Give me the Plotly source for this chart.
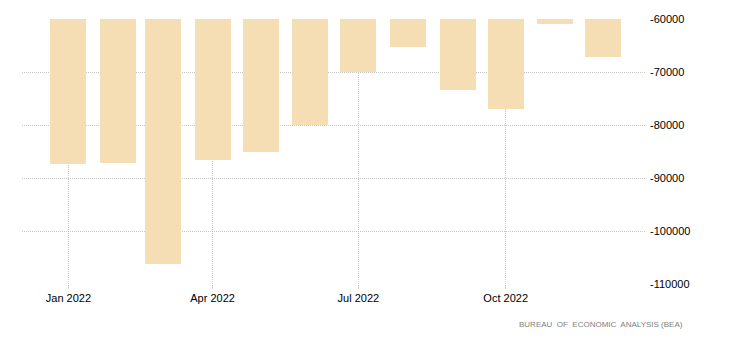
import plotly.graph_objects as go

months = ["2022-01-01", "2022-02-01", "2022-03-01", "2022-04-01", "2022-05-01", "2022-06-01",
          "2022-07-01", "2022-08-01", "2022-09-01", "2022-10-01", "2022-11-01", "2022-12-01"]
values = [-87300, -87100, -106200, -86550, -85050, -80080,
          -70080, -65230, -73470, -77060, -60890, -67250]

x_tickvals = ["2022-01-01", "2022-04-01", "2022-07-01", "2022-10-01"]
x_ticktext = ["Jan 2022", "Apr 2022", "Jul 2022", "Oct 2022"]
y_tickvals = [-60000, -70000, -80000, -90000, -100000, -110000]
y_ticktext = ["-60000", "-70000", "-80000", "-90000", "-100000", "-110000"]

bar_width_ms = 22.5 * 24 * 3600 * 1000

fig = go.Figure()
fig.add_trace(go.Bar(
    x=months, y=values,
    marker=dict(color="#F5DEB3", line=dict(width=0)),
    width=[bar_width_ms] * len(months),
))

font_family = "Liberation Sans, Arial, sans-serif"
fig.update_layout(
    width=729, height=351,
    margin=dict(l=22, r=84, t=19, b=67),
    paper_bgcolor="white", plot_bgcolor="white",
    showlegend=False,
    font=dict(family=font_family, size=11, color="#000"),
    xaxis=dict(
        type="date", range=["2021-12-03", "2022-12-27"],
        tickvals=x_tickvals, ticktext=x_ticktext,
        showgrid=True, gridcolor="#c8c8c8", griddash="1px,1px", gridwidth=1,
        ticks="outside", ticklen=4, tickcolor="#d0d0d0",
        showline=False, zeroline=False,
        tickfont=dict(size=11, color="#000"),
    ),
    yaxis=dict(
        side="right", range=[-110000, -60000],
        tickvals=y_tickvals, ticktext=y_ticktext,
        showgrid=True, gridcolor="#c8c8c8", griddash="1px,1px", gridwidth=1,
        ticks="", ticklabelstandoff=4,
        showline=False, zeroline=False,
        tickfont=dict(size=11, color="#000"),
    ),
    annotations=[dict(
        text="BUREAU  OF  ECONOMIC  ANALYSIS (BEA)",
        xref="paper", yref="paper", x=(685 - 22) / (729 - 22 - 84), y=-(324.5 - 284) / (351 - 19 - 67),
        xanchor="right", yanchor="middle", showarrow=False,
        font=dict(size=8, color="#808080", family=font_family),
    )],
    bargap=0,
)

fig.write_html("out.html")
